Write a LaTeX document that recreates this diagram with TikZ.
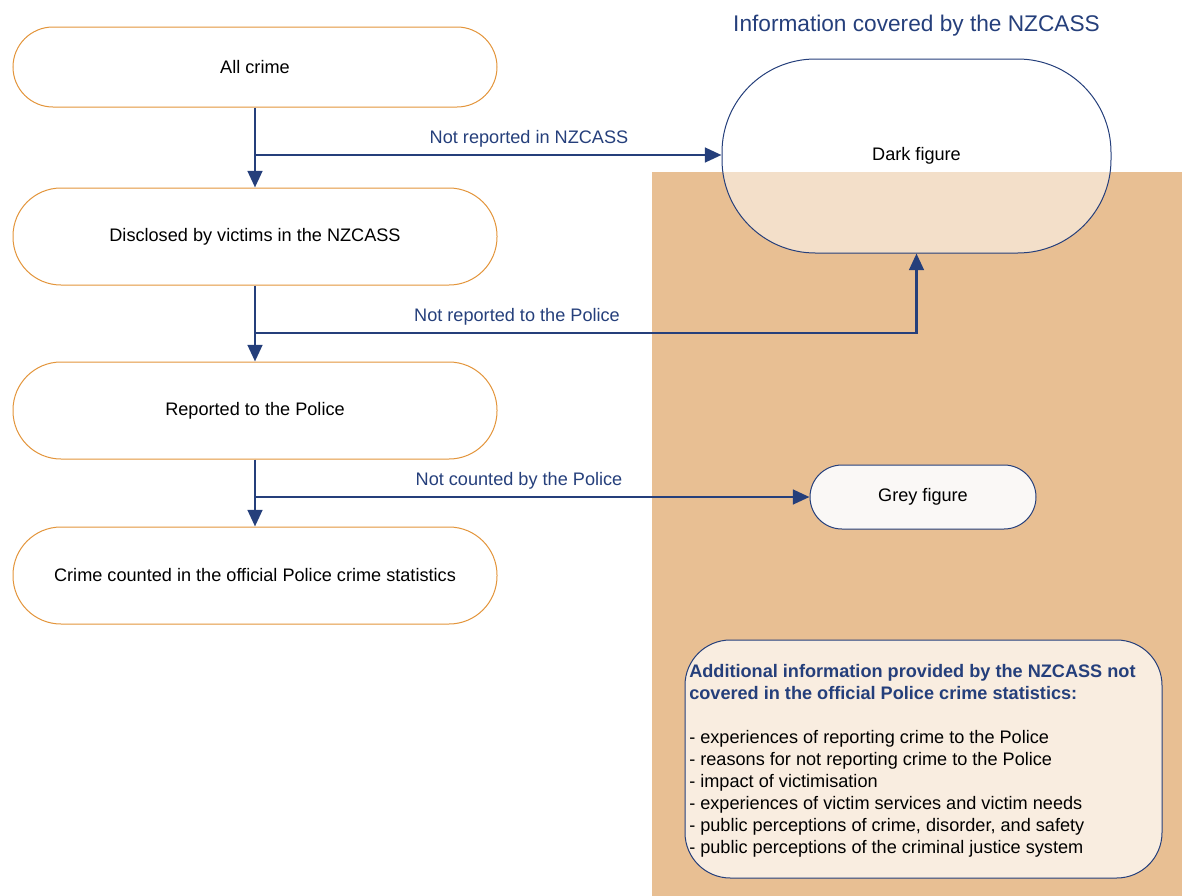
\documentclass[tikz,border=0pt]{standalone}
\usepackage{fontspec}
\setmainfont{Liberation Sans}
\usetikzlibrary{arrows.meta}
\definecolor{navy}{HTML}{253F7B}
\definecolor{orangeline}{HTML}{E3953B}
\definecolor{tan}{HTML}{E8BF93}
\definecolor{paper}{HTML}{F9EDE0}
\definecolor{greyfill}{HTML}{FAF8F6}
\tikzset{
  stagebox/.style={draw=orangeline, line width=0.75pt, fill=white, minimum width=363pt, inner sep=0pt, font=\fontsize{13.6}{16}\selectfont},
  figbox/.style={draw=navy, line width=0.75pt, inner sep=0pt, font=\fontsize{13.6}{16}\selectfont},
  flow/.style={draw=navy, line width=2pt, -{Triangle[length=12.5pt,width=11pt]}},
  lbl/.style={text=navy, font=\fontsize{13.6}{16}\selectfont, inner sep=0pt}
}
\begin{document}
\begin{tikzpicture}[x=0.75pt,y=-0.75pt]
\useasboundingbox (0,0) rectangle (1182,896);
% tan background region
\fill[tan] (652,172) rectangle (1182,896);

% left column
\node[stagebox, minimum height=60pt, rounded corners=30pt] (b1) at (255,67) {All crime};
\node[stagebox, minimum height=72.75pt, rounded corners=36pt] (b2) at (255,236.5) {Disclosed by victims in the NZCASS};
\node[stagebox, minimum height=72.75pt, rounded corners=36pt] (b3) at (255,410.5) {Reported to the Police};
\node[stagebox, minimum height=72.75pt, rounded corners=36pt] (b4) at (255,575.5) {Crime counted in the official Police crime statistics};

% right side
\node[text=navy, font=\fontsize{17}{20}\selectfont] (title) at (916.5,26) {Information covered by the NZCASS};
\node[figbox, fill=white, fill opacity=0.5, text opacity=1, minimum width=291.75pt, minimum height=145.5pt, rounded corners=70pt] (dark) at (916.5,156) {Dark figure};
\node[figbox, fill=greyfill, minimum width=169.5pt, minimum height=48pt, rounded corners=24pt] (grey) at (923,497) {Grey figure};
\node[figbox, fill=paper, minimum width=357.75pt, minimum height=178.5pt, rounded corners=34pt] (info) at (923.5,759) {};
\node[anchor=north west, inner sep=0pt, align=left, font=\fontsize{13.6}{16.5}\selectfont] (infotext) at (689,664)
 {{\color{navy}\bfseries Additional information provided by the NZCASS not}\\
  {\color{navy}\bfseries covered in the official Police crime statistics:}\\
  \mbox{}\\
  - experiences of reporting crime to the Police\\
  - reasons for not reporting crime to the Police\\
  - impact of victimisation\\
  - experiences of victim services and victim needs\\
  - public perceptions of crime, disorder, and safety\\
  - public perceptions of the criminal justice system};

% main flow
\draw[flow] (b1.south) -- (b2.north);
\draw[flow] (b2.south) -- (b3.north);
\draw[flow] (b3.south) -- (b4.north);

% branches
\coordinate (j1) at (b1.south |- 0,155);
\coordinate (j2) at (b2.south |- 0,333);
\coordinate (j3) at (b3.south |- grey.west);
\draw[flow] (j1) -- (dark.west |- j1);
\draw[flow] (j2) -| (dark.south);
\draw[flow] (j3) -- (grey.west);

\node[lbl] (l1) at (529,139) {Not reported in NZCASS};
\node[lbl] (l2) at (517,317) {Not reported to the Police};
\node[lbl] (l3) at (519,481) {Not counted by the Police};
\end{tikzpicture}
\end{document}
